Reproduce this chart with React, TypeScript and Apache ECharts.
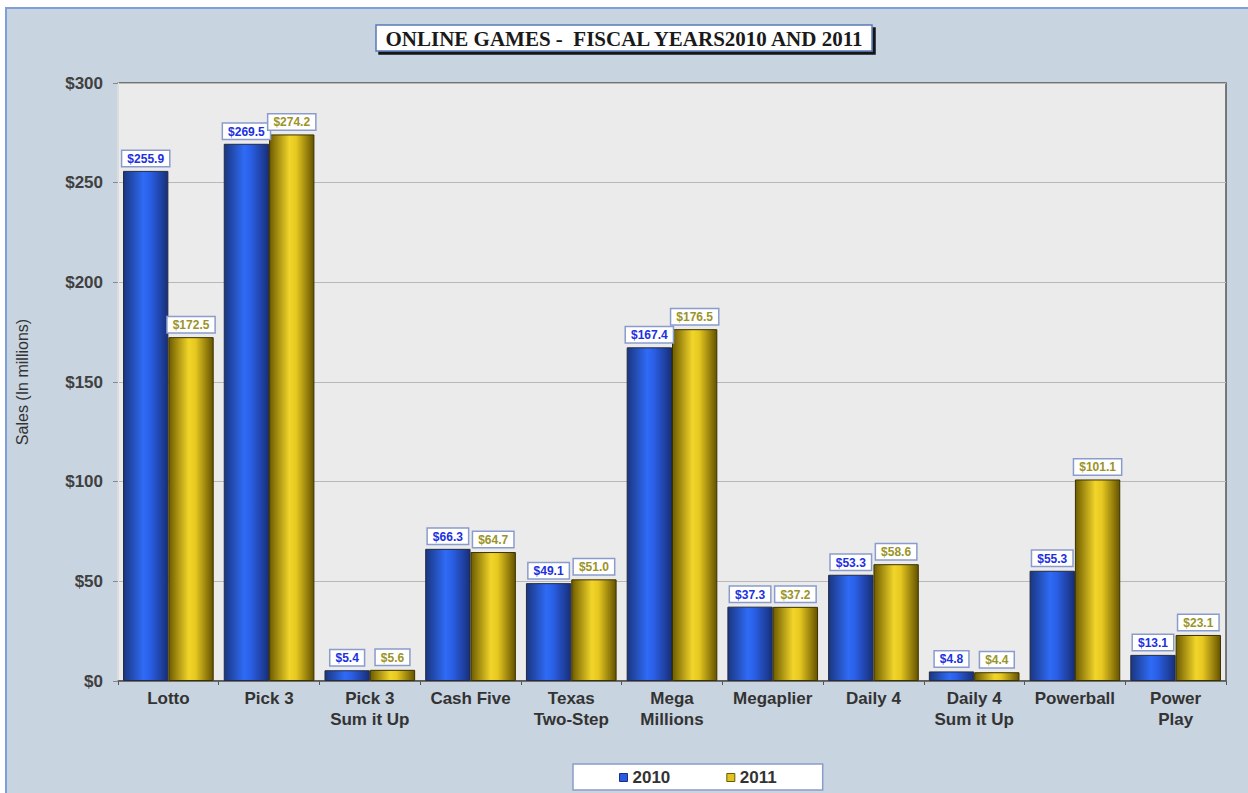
import React, { useEffect, useRef } from "react";
import * as echarts from "echarts";

const categories = [
  "Lotto",
  "Pick 3",
  "Pick 3\nSum it Up",
  "Cash Five",
  "Texas\nTwo-Step",
  "Mega\nMillions",
  "Megaplier",
  "Daily 4",
  "Daily 4\nSum it Up",
  "Powerball",
  "Power\nPlay",
];
const sales2010 = [255.9, 269.5, 5.4, 66.3, 49.1, 167.4, 37.3, 53.3, 4.8, 55.3, 13.1];
const sales2011 = [172.5, 274.2, 5.6, 64.7, 51.0, 176.5, 37.2, 58.6, 4.4, 101.1, 23.1];
const yTicks = { min: 0, max: 300, interval: 50 };

const FONT = "'Liberation Sans', Arial, sans-serif";

export default function App() {
  const ref = useRef<HTMLDivElement>(null);
  useEffect(() => {
    if (!ref.current) return;
    const chart = echarts.init(ref.current, null, { renderer: "svg" });
    const blueGrad = new echarts.graphic.LinearGradient(0, 0, 1, 0, [
      { offset: 0, color: "#1a3680" },
      { offset: 0.45, color: "#2f6bf6" },
      { offset: 0.6, color: "#2a5fe6" },
      { offset: 1, color: "#182f78" },
    ]);
    const yellowGrad = new echarts.graphic.LinearGradient(0, 0, 1, 0, [
      { offset: 0, color: "#6e5c00" },
      { offset: 0.45, color: "#f2d52a" },
      { offset: 0.6, color: "#e6c820" },
      { offset: 1, color: "#655300" },
    ]);
    const labelBase = {
      show: true,
      position: "top" as const,
      distance: 5,
      backgroundColor: "#ffffff",
      borderColor: "#8a9ccc",
      borderWidth: 1.5,
      padding: [2, 5, 1, 5],
      fontFamily: FONT,
      fontWeight: "bold" as const,
      fontSize: 12,
      formatter: (p: any) => "$" + Number(p.value).toFixed(1),
    };
    chart.setOption({
      animation: false,
      backgroundColor: "#ffffff",
      graphic: [
        {
          type: "rect",
          z: -100,
          silent: true,
          shape: { x: 6, y: 8, width: 1250, height: 800 },
          style: { fill: "#c8d4e0", stroke: "#7f9fd8", lineWidth: 2 },
        },
      ],
      title: {
        text: "ONLINE GAMES -  FISCAL YEARS2010 AND 2011",
        left: "center",
        top: 25,
        padding: [3, 8, 2, 8],
        backgroundColor: "#ffffff",
        borderColor: "#5a78b8",
        borderWidth: 1.5,
        shadowColor: "rgba(0,0,0,0.9)",
        shadowBlur: 0,
        shadowOffsetX: 3,
        shadowOffsetY: 3,
        textStyle: {
          fontFamily: "'Liberation Serif', 'Times New Roman', serif",
          fontWeight: "bold",
          fontSize: 21,
          color: "#1a1a1a",
        },
      },
      legend: {
        bottom: 3,
        left: 573,
        width: 247,
        padding: [5, 46, 4, 46],
        backgroundColor: "#ffffff",
        borderColor: "#8a9ccc",
        borderWidth: 1.5,
        itemWidth: 8,
        itemHeight: 8,
        itemGap: 56,
        icon: "rect",
        textStyle: { fontFamily: FONT, fontWeight: "bold", fontSize: 17, color: "#333333" },
        data: [
          { name: "2010", itemStyle: { color: "#2a5ae0", borderColor: "#1a2f80", borderWidth: 1 } },
          { name: "2011", itemStyle: { color: "#e0c420", borderColor: "#6a5a00", borderWidth: 1 } },
        ],
      },
      grid: {
        left: 118,
        right: 22,
        top: 83,
        bottom: 112,
        show: true,
        backgroundColor: "#ebebeb",
        borderColor: "#555555",
        borderWidth: 1.5,
      },
      xAxis: {
        type: "category",
        data: categories,
        axisLine: { lineStyle: { color: "#555555", width: 1.5 } },
        axisTick: { show: true, length: 4, lineStyle: { color: "#555555" } },
        axisLabel: {
          interval: 0,
          fontFamily: FONT,
          fontWeight: "bold",
          fontSize: 17,
          color: "#333333",
          lineHeight: 21,
          margin: 7,
        },
      },
      yAxis: {
        type: "value",
        min: yTicks.min,
        max: yTicks.max,
        interval: yTicks.interval,
        name: "Sales (In millions)",
        nameLocation: "middle",
        nameGap: 88,
        nameRotate: 90,
        nameTextStyle: { fontFamily: FONT, fontSize: 16, color: "#333333" },
        axisLine: { show: true, lineStyle: { color: "#ffffff", width: 1.5 } },
        axisTick: { show: true, length: 5, lineStyle: { color: "#888888" } },
        axisLabel: {
          fontFamily: FONT,
          fontWeight: "bold",
          fontSize: 17,
          color: "#404040",
          margin: 15,
          formatter: (v: number) => "$" + v,
        },
        splitLine: { lineStyle: { color: "#b8b8b8", width: 1 } },
      },
      series: [
        {
          name: "2010",
          type: "bar",
          data: sales2010,
          barGap: "0%",
          barCategoryGap: "10%",
          itemStyle: { color: blueGrad, borderColor: "#222a44", borderWidth: 1 },
          label: { ...labelBase, color: "#2030e0" },
        },
        {
          name: "2011",
          type: "bar",
          data: sales2011,
          barGap: "0%",
          barCategoryGap: "10%",
          itemStyle: { color: yellowGrad, borderColor: "#3a3200", borderWidth: 1 },
          label: { ...labelBase, color: "#9a9428" },
        },
      ],
    });
    return () => chart.dispose();
  }, []);
  return (
    <div style={{ position: "absolute", left: 0, top: 0, width: 1248, height: 793 }}>
      <div ref={ref} style={{ width: 1248, height: 793 }} />
    </div>
  );
}
